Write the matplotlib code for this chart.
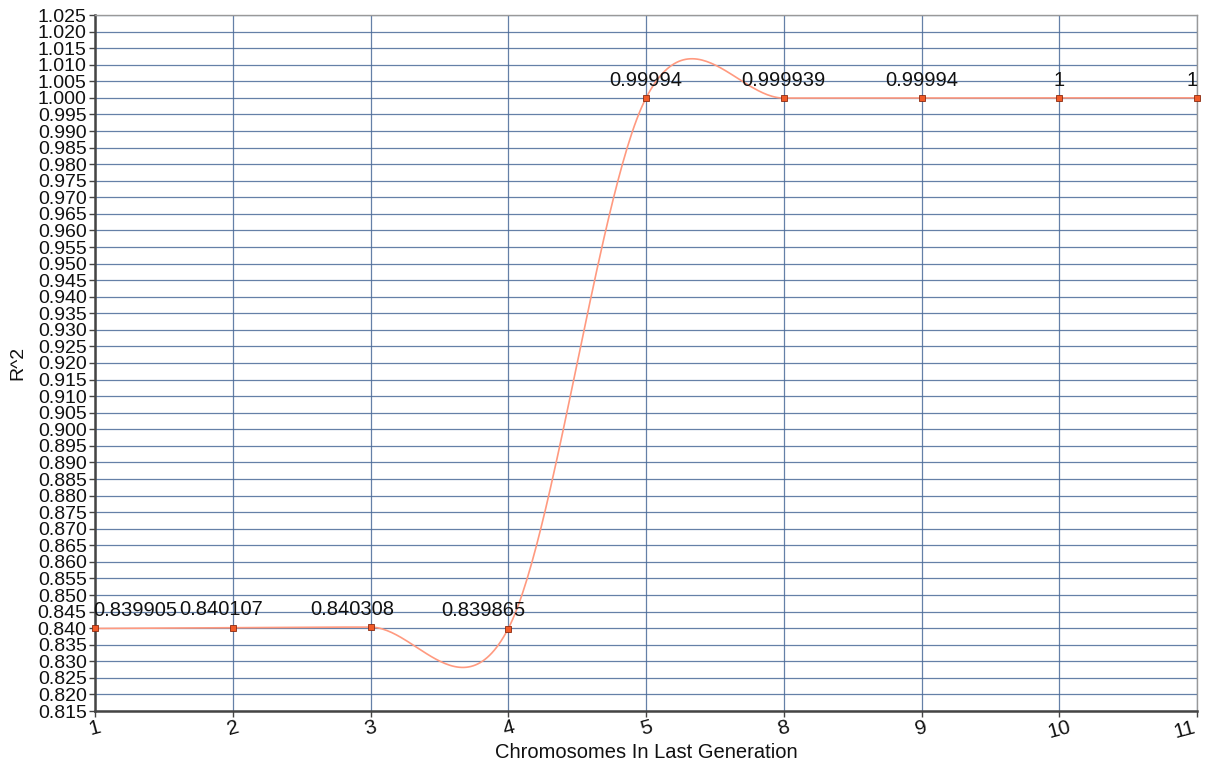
import matplotlib
matplotlib.use('Agg')
import matplotlib.pyplot as plt
import numpy as np

plt.rcParams['font.family'] = ['Liberation Sans', 'DejaVu Sans']

categories = ['1', '2', '3', '4', '5', '8', '9', '10', '11']
r2_values = [0.839905, 0.840107, 0.840308, 0.839865, 0.99994, 0.999939, 0.99994, 1.0, 1.0]
value_labels = ['0.839905', '0.840107', '0.840308', '0.839865', '0.99994', '0.999939', '0.99994', '1', '1']
label_dx = [-2, -12, -18, -25, 0, 0, 0, 0, -5]   # px offsets of the data labels
label_ha = ['left', 'center', 'center', 'center', 'center', 'center', 'center', 'center', 'center']


def catmull_rom(x, y, n=60):
    # cardinal spline like the chart tool draws
    x = np.asarray(x, float)
    y = np.asarray(y, float)
    m = np.zeros_like(y)
    m[1:-1] = (y[2:] - y[:-2]) / 2.0
    m[0] = y[1] - y[0]
    m[-1] = y[-1] - y[-2]
    xs, ys = [], []
    for i in range(len(x) - 1):
        t = np.linspace(0, 1, n)
        h00 = 2 * t**3 - 3 * t**2 + 1
        h10 = t**3 - 2 * t**2 + t
        h01 = -2 * t**3 + 3 * t**2
        h11 = t**3 - t**2
        xs.append(x[i] + t * (x[i + 1] - x[i]))
        ys.append(h00 * y[i] + h10 * m[i] + h01 * y[i + 1] + h11 * m[i + 1])
    return np.concatenate(xs), np.concatenate(ys)


xpos = np.arange(len(categories))
sx, sy = catmull_rom(xpos, r2_values)

W, H = 1206, 763
fig = plt.figure(figsize=(W / 100, H / 100), dpi=100)
ax = fig.add_axes([95 / W, 1 - 711 / H, (1197 - 95) / W, (711 - 15) / H])

grid_col = '#4a6a98'
ax.set_xlim(0, len(categories) - 1)
ax.set_ylim(0.815, 1.025)
yt = np.round(np.arange(0.815, 1.0251, 0.005), 3)
ax.set_yticks(yt)
ax.set_yticklabels(['%.3f' % v for v in yt], fontsize=14, color='#111111')
ax.set_xticks(xpos)
ax.set_xticklabels(categories, fontsize=15, rotation=15, ha='center', color='#111111')
ax.get_xticklabels()[-1].set_ha('right')
ax.grid(True, color=grid_col, lw=0.9, alpha=0.85)
ax.set_axisbelow(True)
ax.tick_params(axis='y', length=4, width=1, pad=2, color='#444444')
ax.tick_params(axis='x', length=4, width=1, pad=1, color='#444444')
for side in ['left', 'bottom']:
    ax.spines[side].set_color('#444444')
    ax.spines[side].set_linewidth(1.8)
for side in ['top', 'right']:
    ax.spines[side].set_color('#999999')
    ax.spines[side].set_linewidth(1.0)

ax.plot(sx, sy, color='#ff9a80', lw=1.2, zorder=3)
ax.plot(xpos, r2_values, ls='none', marker='s', ms=4.5, mfc='#f05a28', mec='#8a2a10', mew=0.6, zorder=4, clip_on=False)

for i, (v, lab) in enumerate(zip(r2_values, value_labels)):
    ax.annotate(lab, (xpos[i], v), xytext=(label_dx[i] * 0.72, 6), textcoords='offset points',
                ha=label_ha[i], va='bottom', fontsize=14.5, color='#111111')

ax.set_xlabel('Chromosomes In Last Generation', fontsize=14.5, color='#111111')
ax.xaxis.set_label_coords(0.5, -(752 - 711) / (711 - 15), transform=ax.transAxes)
ax.xaxis.label.set_va('center')
ax.set_ylabel('R^2', fontsize=14, color='#111111')
ax.yaxis.set_label_coords(-(95 - 18) / (1197 - 95), 0.5, transform=ax.transAxes)
ax.yaxis.label.set_va('center')

fig.savefig('out.png', dpi=100)
